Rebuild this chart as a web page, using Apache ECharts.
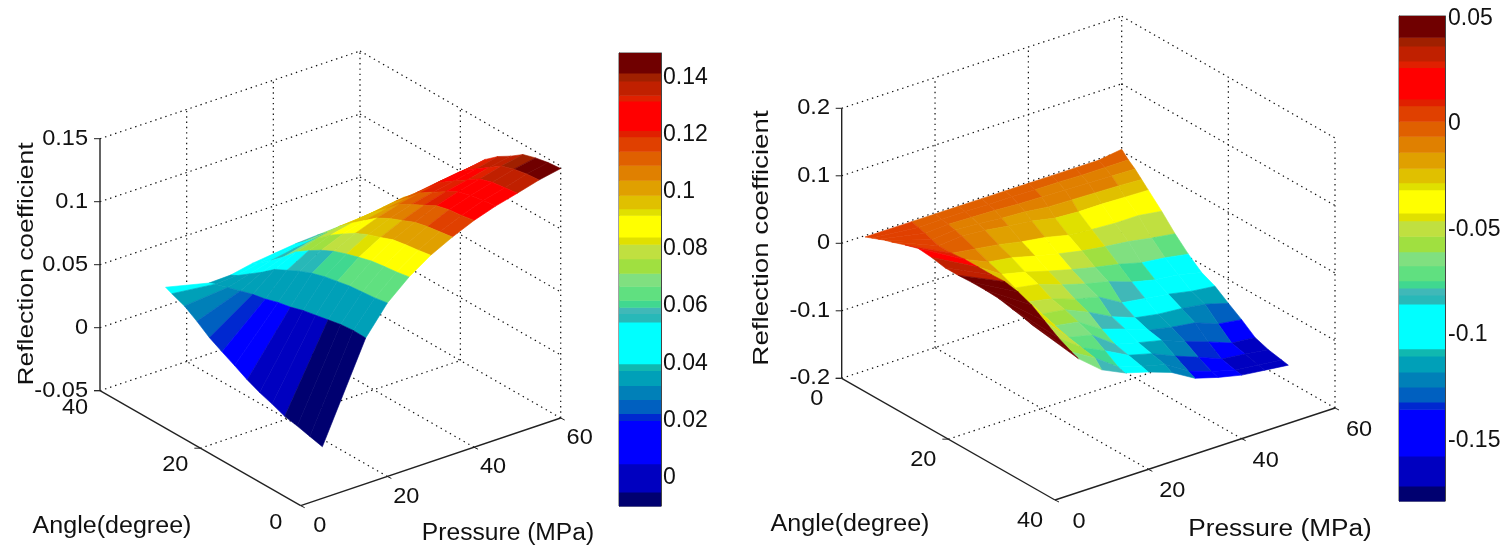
<!DOCTYPE html>
<html>
<head>
<meta charset="utf-8">
<title>Reflection coefficient</title>
<style>
    html, body { margin: 0; padding: 0; background: #ffffff; }
    #main { width: 1510px; height: 548px; filter: blur(0.45px); }
</style>
</head>
<body>
<div id="main"></div>
<script src="https://cdn.jsdelivr.net/npm/echarts@6/dist/echarts.min.js"></script>
<script>
// surface grid
const pressures = [5, 15, 20, 25, 30, 35, 40, 45, 50, 55, 60]
const leftAngles = [0, 2.5, 5, 7.5, 10, 12.5, 15, 17.5, 20, 22.5, 25, 27.5, 30, 31.25]
const rightAngles = [0, 1.25, 2.5, 3.75, 5, 7.5, 10, 12.5, 15, 17.5, 20, 22.5, 25, 27.5, 30, 31.25]

const pressureTicks = [0, 20, 40, 60]
const angleTicks = [0, 20, 40]
const leftCoeffTicks = [-0.05, 0, 0.05, 0.1, 0.15]
const rightCoeffTicks = [-0.2, -0.1, 0, 0.1, 0.2]
const leftBarTicks = [0, 0.02, 0.04, 0.06, 0.08, 0.1, 0.12, 0.14]
const rightBarTicks = [-0.15, -0.1, -0.05, 0, 0.05]
const leftBarRange = [-0.01, 0.1486]
const rightBarRange = [-0.1786, 0.0512]

// left plot: heights, rows follow pressures, columns follow angles
const leftCoeff = [
    [-0.009, -0.0065, -0.004, -0.002, 0.002, 0.0055, 0.01, 0.0155, 0.0207, 0.0262, 0.0335, 0.04, 0.044, 0.0463],
    [0.0657, 0.066, 0.065, 0.063, 0.061, 0.059, 0.056, 0.054, 0.051, 0.049, 0.046, 0.043, 0.04, 0.038],
    [0.0877, 0.086, 0.085, 0.084, 0.082, 0.08, 0.077, 0.073, 0.068, 0.063, 0.055, 0.048, 0.041, 0.0385],
    [0.1026, 0.1008, 0.0996, 0.0981, 0.0953, 0.0923, 0.0887, 0.0838, 0.0778, 0.0711, 0.0614, 0.0529, 0.045, 0.042],
    [0.114, 0.1123, 0.1109, 0.1091, 0.1053, 0.1018, 0.0972, 0.0909, 0.0843, 0.0762, 0.0657, 0.0559, 0.0475, 0.044],
    [0.1226, 0.1211, 0.1195, 0.1172, 0.113, 0.1088, 0.1035, 0.0958, 0.0881, 0.0797, 0.069, 0.0583, 0.0498, 0.046],
    [0.13, 0.1283, 0.1271, 0.1246, 0.1192, 0.1142, 0.1084, 0.0993, 0.091, 0.081, 0.0702, 0.0595, 0.0512, 0.047],
    [0.1356, 0.1343, 0.1325, 0.1299, 0.1242, 0.1181, 0.1119, 0.1023, 0.0936, 0.0822, 0.0717, 0.0603, 0.0524, 0.048],
    [0.14, 0.1386, 0.1373, 0.1341, 0.1277, 0.1213, 0.1145, 0.1045, 0.095, 0.0836, 0.0727, 0.0613, 0.0536, 0.049],
    [0.1447, 0.1438, 0.1419, 0.1386, 0.1317, 0.1251, 0.1181, 0.1074, 0.0976, 0.086, 0.0748, 0.0636, 0.0557, 0.0515],
    [0.148, 0.147, 0.145, 0.142, 0.135, 0.129, 0.121, 0.11, 0.1, 0.088, 0.077, 0.066, 0.058, 0.054]
]
// left plot: colour value of each cell, the picture does not colour by height here
const leftCellValues = [
    [-0.008, -0.008, -0.008, 0, 0, 0, 0.0125, 0.0125, 0.021, 0.025, 0.03, 0.035, 0.047],
    [0.035, 0.035, 0.035, 0.035, 0.035, 0.035, 0.035, 0.035, 0.035, 0.035, 0.035, 0.035, 0.035],
    [0.064, 0.064, 0.064, 0.064, 0.061, 0.061, 0.057, 0.057, 0.047, 0.047, 0.047, 0.047, 0.047],
    [0.088, 0.088, 0.088, 0.088, 0.083, 0.079, 0.079, 0.074, 0.074, 0.069, 0.057, 0.047, 0.047],
    [0.1015, 0.1015, 0.1015, 0.1015, 0.0965, 0.0965, 0.088, 0.088, 0.079, 0.069, 0.057, 0.047, 0.047],
    [0.117, 0.117, 0.112, 0.112, 0.107, 0.107, 0.1015, 0.0965, 0.0965, 0.088, 0.079, 0.069, 0.057],
    [0.127, 0.127, 0.127, 0.12, 0.117, 0.112, 0.107, 0.1015, 0.0965, 0.088, 0.083, 0.079, 0.069],
    [0.127, 0.127, 0.127, 0.127, 0.12, 0.12, 0.117, 0.112, 0.107, 0.1015, 0.088, 0.083, 0.079],
    [0.136, 0.136, 0.136, 0.133, 0.127, 0.127, 0.127, 0.12, 0.117, 0.112, 0.107, 0.088, 0.088],
    [0.145, 0.145, 0.14, 0.136, 0.136, 0.133, 0.127, 0.127, 0.12, 0.117, 0.112, 0.1015, 0.0965]
]

// right plot
const rightCoeff = [
    [-0.002, 0.002, 0.006, 0.01, 0.013, 0.02, 0.026, 0.024, 0.02, 0.02, 0.021, 0.021, 0.02, 0.016, 0.012, 0.009],
    [-0.002, -0.005, -0.008, -0.012, -0.015, -0.015, -0.013, -0.013, -0.013, -0.012, -0.016, -0.024, -0.037, -0.05, -0.06, -0.064],
    [-0.002, -0.004, -0.006, -0.009, -0.012, -0.02, -0.028, -0.035, -0.044, -0.053, -0.06, -0.066, -0.072, -0.076, -0.08, -0.092],
    [-0.002, -0.004, -0.007, -0.011, -0.015, -0.025, -0.033, -0.043, -0.05, -0.06, -0.065, -0.072, -0.08, -0.092, -0.105, -0.108],
    [-0.002, -0.005, -0.008, -0.014, -0.02, -0.032, -0.042, -0.053, -0.062, -0.072, -0.08, -0.094, -0.105, -0.11, -0.115, -0.118],
    [-0.002, -0.005, -0.01, -0.016, -0.024, -0.037, -0.05, -0.062, -0.072, -0.08, -0.098, -0.105, -0.114, -0.119, -0.124, -0.13],
    [-0.002, -0.006, -0.011, -0.02, -0.031, -0.045, -0.057, -0.07, -0.08, -0.1, -0.111, -0.118, -0.122, -0.134, -0.145, -0.15],
    [-0.002, -0.006, -0.012, -0.021, -0.033, -0.048, -0.062, -0.077, -0.092, -0.105, -0.117, -0.125, -0.135, -0.147, -0.157, -0.16],
    [-0.002, -0.007, -0.013, -0.022, -0.033, -0.05, -0.066, -0.086, -0.1, -0.11, -0.12, -0.13, -0.147, -0.161, -0.166, -0.168],
    [-0.002, -0.007, -0.014, -0.023, -0.034, -0.05, -0.072, -0.09, -0.104, -0.117, -0.125, -0.143, -0.16, -0.165, -0.17, -0.172],
    [0.003, -0.007, -0.015, -0.025, -0.035, -0.055, -0.077, -0.096, -0.112, -0.121, -0.135, -0.148, -0.163, -0.17, -0.174, -0.176]
]
// only the two front rows are coloured differently from their height
const rightFrontRowValues = [
    [0.004, 0.004, 0.004, 0.004, 0.004, 0.009, 0.018, 0.03, 0.036, 0.05, 0.05, 0.05, 0.05, 0.05, 0.05],
    [-0.003, -0.003, -0.003, -0.003, -0.005, -0.012, -0.017, -0.024, -0.028, -0.036, -0.036, -0.045, -0.05, -0.06, -0.066]
]
const rightCellValues = rightFrontRowValues.concat(rightCoeff.slice(2, 10))

// colour bar bands from the bottom, the top edge of each one as a share of the bar
const bandTops = [0.031, 0.093, 0.189, 0.204, 0.235, 0.266, 0.299, 0.314, 0.406, 0.425, 0.439, 0.454, 0.485, 0.514, 0.546, 0.578, 0.594, 0.642, 0.656, 0.686, 0.719, 0.752, 0.783, 0.815, 0.829, 0.894, 0.907, 0.938, 0.956, 1]
const bandColors = ['#000070', '#0000c0', '#0000ff', '#0028d0', '#0060c0', '#0080b8', '#00a0b8', '#10b8b0', '#00ffff', '#28b8b8', '#40b8b8', '#40d890', '#60e080', '#80e080', '#a0e040', '#c0e040', '#e0e000', '#ffff00', '#e0e000', '#e0c000', '#e0a000', '#e08000', '#e06000', '#e04000', '#e02000', '#ff0000', '#e02000', '#c02000', '#a02000', '#700000']

const fontName = '"Liberation Sans", Arial, sans-serif'

// a plot is an oblique view: where the front floor corner lands and how far each axis reaches on screen
const leftView = {
    origin: [300.7, 505.7], pressureStep: [260, -87.7], angleStep: [-200.7, -115],
    angleAtOrigin: 0, angleAtFar: 40, zMin: -0.05, zMax: 0.15, zLength: 252
}
const rightView = {
    origin: [1055, 500], pressureStep: [280, -92], angleStep: [-213.3, -121.7],
    angleAtOrigin: 40, angleAtFar: 0, zMin: -0.2, zMax: 0.2, zLength: 270
}

function project(view, p, a, z) {
    const t = (a - view.angleAtOrigin) / (view.angleAtFar - view.angleAtOrigin)
    const s = p / 60
    const h = (z - view.zMin) / (view.zMax - view.zMin) * view.zLength
    return [
        view.origin[0] + s * view.pressureStep[0] + t * view.angleStep[0],
        view.origin[1] + s * view.pressureStep[1] + t * view.angleStep[1] - h
    ]
}

function bandColor(value, range) {
    const f = (value - range[0]) / (range[1] - range[0])
    for (let i = 0; i < bandTops.length; i++) {
        if (f <= bandTops[i]) return bandColors[i]
    }
    return bandColors[bandColors.length - 1]
}

// cells listed from the back of the box to the front so nearer ones paint over
function surfaceSeries(view, angles, coeff, cellValues, range, angleOrder) {
    const data = []
    for (let i = pressures.length - 2; i >= 0; i--) {
        for (let k = 0; k < angles.length - 1; k++) {
            const j = angleOrder === 'up' ? k : angles.length - 2 - k
            data.push([i, j, cellValues[i][j]])
        }
    }
    return {
        type: 'custom',
        coordinateSystem: 'none',
        silent: true,
        data: data,
        renderItem: function (params, api) {
            const i = api.value(0)
            const j = api.value(1)
            const color = bandColor(api.value(2), range)
            const corners = [[i, j], [i + 1, j], [i + 1, j + 1], [i, j + 1]]
            return {
                type: 'polygon',
                shape: { points: corners.map(c => project(view, pressures[c[0]], angles[c[1]], coeff[c[0]][c[1]])) },
                style: { fill: color, stroke: color, lineWidth: 0.6 }
            }
        }
    }
}

function lineSeries(view, segments, style) {
    return {
        type: 'custom',
        coordinateSystem: 'none',
        silent: true,
        data: segments,
        renderItem: function (params, api) {
            const from = project(view, api.value(0), api.value(1), api.value(2))
            const to = project(view, api.value(3), api.value(4), api.value(5))
            return {
                type: 'line',
                shape: { x1: from[0], y1: from[1], x2: to[0], y2: to[1] },
                style: style
            }
        }
    }
}

function gridSegments(view, zTicks) {
    const back = view.angleAtFar
    const front = view.angleAtOrigin
    const segs = []
    pressureTicks.forEach(p => {
        if (p > 0) segs.push([p, front, view.zMin, p, back, view.zMin])
        if (p > 0) segs.push([p, back, view.zMin, p, back, view.zMax])
    })
    angleTicks.forEach(a => {
        if (a !== front) segs.push([0, a, view.zMin, 60, a, view.zMin])
        if (a !== back) segs.push([60, a, view.zMin, 60, a, view.zMax])
    })
    zTicks.forEach(z => {
        if (z > view.zMin) {
            segs.push([0, back, z, 60, back, z])
            segs.push([60, back, z, 60, front, z])
        }
    })
    return segs
}

function axisSegments(view) {
    const back = view.angleAtFar
    const front = view.angleAtOrigin
    return [
        [0, front, view.zMin, 60, front, view.zMin],
        [0, front, view.zMin, 0, back, view.zMin],
        [0, back, view.zMin, 0, back, view.zMax]
    ]
}

function tickText(x, y, text, align) {
    return {
        type: 'text', x: x, y: y, scaleX: 1.07,
        style: { text: text, x: 0, y: 0, fill: '#111', align: align, verticalAlign: 'middle', font: '22px ' + fontName }
    }
}

function labelSeries(view, zTicks, zRight, pressureOffset, angleOffset, titles) {
    return {
        type: 'custom',
        coordinateSystem: 'none',
        silent: true,
        data: [0],
        renderItem: function () {
            const children = []
            const back = view.angleAtFar
            const front = view.angleAtOrigin
            zTicks.forEach(z => {
                const q = project(view, 0, back, z)
                children.push(tickText(zRight, q[1], String(z), 'right'))
                children.push({ type: 'line', shape: { x1: q[0] - 6, y1: q[1], x2: q[0], y2: q[1] }, style: { stroke: '#222', lineWidth: 1 } })
            })
            pressureTicks.forEach(p => {
                const q = project(view, p, front, view.zMin)
                children.push(tickText(q[0] + pressureOffset[0], q[1] + pressureOffset[1], String(p), 'center'))
                children.push({ type: 'line', shape: { x1: q[0], y1: q[1], x2: q[0] + 4, y2: q[1] + 2 }, style: { stroke: '#222', lineWidth: 1 } })
            })
            angleTicks.forEach(a => {
                const q = project(view, 0, a, view.zMin)
                if (a !== front) {
                    children.push({ type: 'line', shape: { x1: q[0], y1: q[1], x2: q[0] - 6, y2: q[1] }, style: { stroke: '#222', lineWidth: 1 } })
                }
                children.push(tickText(q[0] + angleOffset[0], q[1] + angleOffset[1], String(a), 'center'))
            })
            titles.forEach(t => {
                children.push({
                    type: 'text', x: t.x, y: t.y, scaleX: t.stretch, rotation: t.rotate || 0,
                    style: { text: t.text, x: 0, y: 0, fill: '#111', align: 'center', verticalAlign: 'middle', font: t.size + 'px ' + fontName }
                })
            })
            return { type: 'group', children: children }
        }
    }
}

function barSeries(range, index) {
    const data = bandTops.map((top, i) => {
        const low = i === 0 ? 0 : bandTops[i - 1]
        return [range[0] + low * (range[1] - range[0]), range[0] + top * (range[1] - range[0]), i]
    })
    return {
        type: 'custom',
        silent: true,
        xAxisIndex: index,
        yAxisIndex: index * 2,
        data: data,
        encode: { y: [0, 1] },
        z: 1,
        renderItem: function (params, api) {
            const bottom = api.coord([0, api.value(0)])
            const top = api.coord([1, api.value(1)])
            return {
                type: 'rect',
                shape: { x: bottom[0], y: top[1], width: top[0] - bottom[0], height: bottom[1] - top[1] + 0.5 },
                style: { fill: bandColors[api.value(2)] }
            }
        }
    }
}

function barAxes(range, ticks, gridIndex, margin) {
    const base = {
        type: 'value', gridIndex: gridIndex, min: range[0], max: range[1],
        axisLine: { show: true, lineStyle: { color: '#444', width: 1 } },
        splitLine: { show: false }
    }
    const tick = { show: true, inside: true, length: 4, customValues: ticks, lineStyle: { color: '#222' } }
    return [
        Object.assign({}, base, { position: 'left', axisTick: tick, axisLabel: { show: false } }),
        Object.assign({}, base, {
            position: 'right', axisTick: tick,
            axisLabel: {
                show: true, customValues: ticks, margin: margin, color: '#111', fontSize: 23, fontFamily: fontName,
                formatter: v => String(Number(v.toFixed(2)))
            }
        })
    ]
}

const gridStyle = { stroke: '#111', lineWidth: 1.2, lineDash: [1.4, 3.9] }
const axisStyle = { stroke: '#222', lineWidth: 1.4 }

const leftTitles = [
    { text: 'Reflection coefficient', x: 27, y: 264, rotate: Math.PI / 2, size: 22, stretch: 1.2 },
    { text: 'Angle(degree)', x: 112, y: 527, size: 23, stretch: 1.09 },
    { text: 'Pressure (MPa)', x: 508, y: 534, size: 23, stretch: 1.07 }
]
const rightTitles = [
    { text: 'Reflection coefficient', x: 762, y: 238, rotate: Math.PI / 2, size: 22, stretch: 1.26 },
    { text: 'Angle(degree)', x: 850, y: 525, size: 23, stretch: 1.09 },
    { text: 'Pressure (MPa)', x: 1280, y: 530, size: 23, stretch: 1.14 }
]

const chart = echarts.init(document.getElementById('main'), null, { renderer: 'canvas' })
chart.setOption({
    animation: false,
    backgroundColor: '#ffffff',
    grid: [
        { left: 619, top: 53, width: 42, height: 453, show: true, borderColor: '#444', borderWidth: 1 },
        { left: 1399, top: 16, width: 46, height: 485, show: true, borderColor: '#444', borderWidth: 1 }
    ],
    xAxis: [
        { type: 'value', gridIndex: 0, min: 0, max: 1, show: false },
        { type: 'value', gridIndex: 1, min: 0, max: 1, show: false }
    ],
    yAxis: barAxes(leftBarRange, leftBarTicks, 0, 2).concat(barAxes(rightBarRange, rightBarTicks, 1, 3)),
    series: [
        lineSeries(leftView, gridSegments(leftView, leftCoeffTicks), gridStyle),
        surfaceSeries(leftView, leftAngles, leftCoeff, leftCellValues, leftBarRange, 'down'),
        lineSeries(leftView, axisSegments(leftView), axisStyle),
        labelSeries(leftView, leftCoeffTicks, 88, [19, 20], [-25, 17], leftTitles),
        lineSeries(rightView, gridSegments(rightView, rightCoeffTicks), gridStyle),
        surfaceSeries(rightView, rightAngles, rightCoeff, rightCellValues, rightBarRange, 'up'),
        lineSeries(rightView, axisSegments(rightView), axisStyle),
        labelSeries(rightView, rightCoeffTicks, 830, [24, 22], [-25, 21], rightTitles),
        barSeries(leftBarRange, 0),
        barSeries(rightBarRange, 1)
    ]
})
</script>
</body>
</html>
